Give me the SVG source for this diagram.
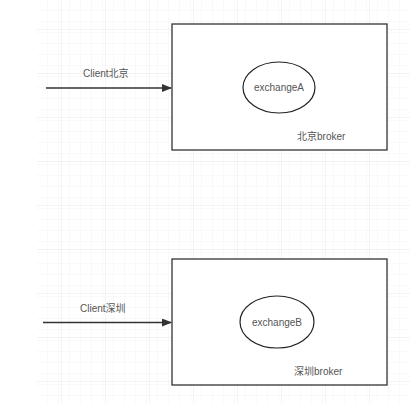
<svg xmlns="http://www.w3.org/2000/svg" width="410" height="403" viewBox="0 0 410 403">
<style>
.box{fill:#fff;stroke:#333;stroke-width:1.3}
.ell{fill:#fff;stroke:#222;stroke-width:1.2}
.t{font-family:"Liberation Sans","Noto Sans CJK SC",sans-serif;font-size:10px;fill:#555}
.edge{stroke:#333;stroke-width:1.3;fill:none}
</style>
<defs>
<pattern id="minor" x="37" y="0" width="11" height="11" patternUnits="userSpaceOnUse">
<path d="M11 0V11M0 11H11" stroke="#f2f2f2" stroke-width="1" fill="none"/>
</pattern>
<pattern id="major" x="18" y="30" width="44" height="44" patternUnits="userSpaceOnUse">
<path d="M44 0V44M0 44H44" stroke="#e8e8e8" stroke-width="1" fill="none"/>
</pattern>
<marker id="arr" markerWidth="10" markerHeight="8" refX="9" refY="4" orient="auto" markerUnits="userSpaceOnUse">
<path d="M0 0L10 4L0 8Z" fill="#333"/>
</marker>
</defs>
<rect width="410" height="403" fill="#fff"/>
<rect x="37" y="0" width="373" height="403" fill="url(#minor)"/>
<rect x="37" y="0" width="373" height="403" fill="url(#major)"/>
<g id="connectors">
<line class="edge" x1="46" y1="88" x2="171" y2="88" marker-end="url(#arr)"/>
<text class="t" x="83" y="77">Client北京</text>
<line class="edge" x1="43" y1="322.5" x2="171" y2="322.5" marker-end="url(#arr)"/>
<text class="t" x="80" y="312">Client深圳</text>
</g>
<g id="brokerA">
<rect class="box" x="172" y="24" width="215" height="126"/>
<text class="t" x="297" y="140">北京broker</text>
</g>
<g id="exchangeA">
<ellipse class="ell" cx="279" cy="87.5" rx="36" ry="25.5"/>
<text class="t" x="279" y="91" text-anchor="middle">exchangeA</text>
</g>
<g id="brokerB">
<rect class="box" x="172" y="259" width="215" height="126"/>
<text class="t" x="294" y="375">深圳broker</text>
</g>
<g id="exchangeB">
<ellipse class="ell" cx="277" cy="322" rx="37" ry="26"/>
<text class="t" x="277" y="326" text-anchor="middle">exchangeB</text>
</g>
</svg>
